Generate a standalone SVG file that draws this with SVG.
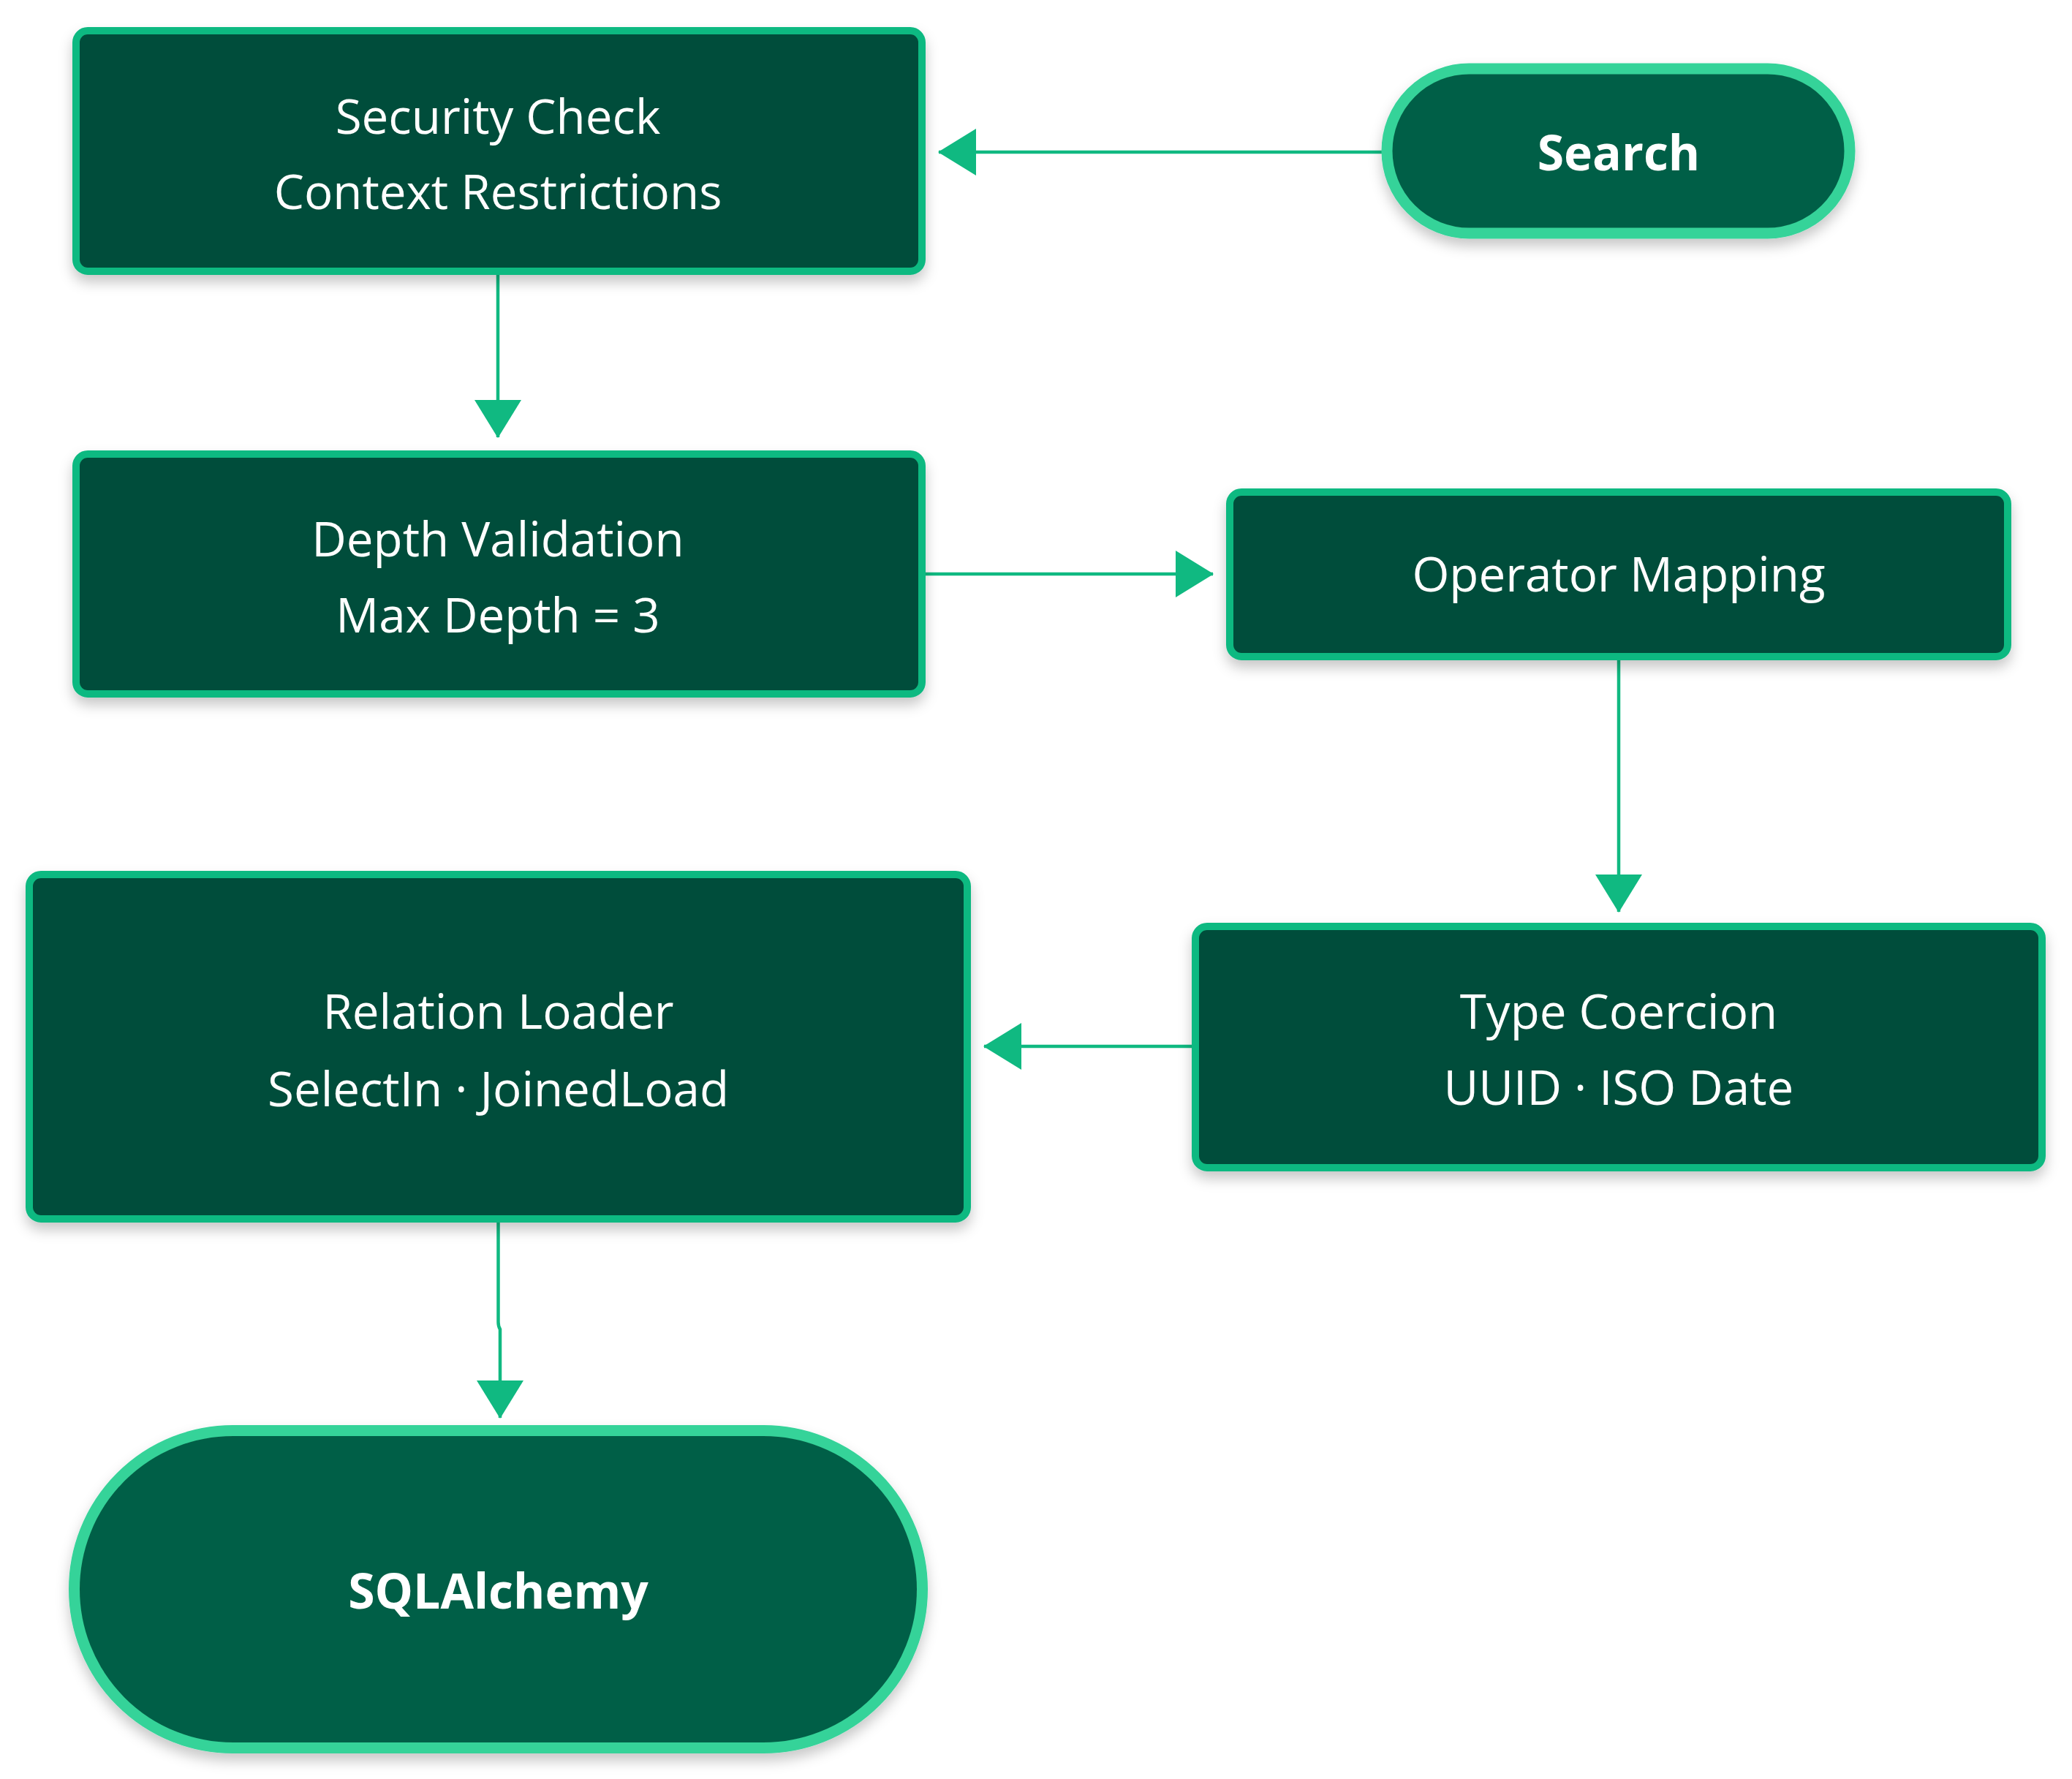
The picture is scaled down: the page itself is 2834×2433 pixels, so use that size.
<svg xmlns="http://www.w3.org/2000/svg" width="2834" height="2433" viewBox="0 0 2834 2433">
<defs>
<filter id="sh" x="-10%" y="-10%" width="120%" height="130%">
<feDropShadow dx="0" dy="10" stdDeviation="9" flood-color="#000" flood-opacity="0.22"/>
</filter>
<marker id="ah" markerUnits="userSpaceOnUse" viewBox="0 0 52 64" refX="51" refY="32" markerWidth="52" markerHeight="64" orient="auto">
<path d="M0,0 L52,32 L0,64 Z" fill="#10b981"/>
</marker>
<style>
.box{fill:#064e3b;stroke:#10b981;stroke-width:10}
.term{fill:#065f46;stroke:#34d399;stroke-width:15}
.t{font-family:"Segoe UI","Open Sans","Noto Sans",sans-serif;font-size:65.5px;fill:#fff;text-anchor:middle}
.b{font-weight:bold;font-size:66px}
.e{fill:none;stroke:#10b981;stroke-width:4.5;marker-end:url(#ah)}
</style>
</defs>
<rect width="2834" height="2433" fill="#fff"/>
<g id="connectors">
<path class="e" d="M1890,208 L1284,208"/>
<path class="e" d="M681,376 L681,598"/>
<path class="e" d="M1266,785 L1659,785"/>
<path class="e" d="M2214,903 L2214,1247"/>
<path class="e" d="M1630,1431 L1346,1431"/>
<path class="e" d="M681.5,1672 L681.5,1808 Q681.5,1814 684,1818 L684,1939"/>
</g>
<g id="search" filter="url(#sh)">
<rect class="term" x="1897" y="94" width="633" height="225" rx="112.5"/>
<text class="t b" x="2214" y="233">Search</text>
</g>
<g id="security-check" filter="url(#sh)">
<rect class="box" x="104" y="42" width="1157" height="329" rx="16"/>
<text class="t" x="681" y="183">Security Check</text>
<text class="t" x="681" y="286">Context Restrictions</text>
</g>
<g id="depth-validation" filter="url(#sh)">
<rect class="box" x="104" y="621" width="1157" height="328" rx="16"/>
<text class="t" x="681" y="761">Depth Validation</text>
<text class="t" x="681" y="865">Max Depth = 3</text>
</g>
<g id="operator-mapping" filter="url(#sh)">
<rect class="box" x="1682" y="673" width="1064" height="225" rx="16"/>
<text class="t" x="2214" y="809">Operator Mapping</text>
</g>
<g id="type-coercion" filter="url(#sh)">
<rect class="box" x="1635" y="1267" width="1158" height="330" rx="16"/>
<text class="t" x="2214" y="1407">Type Coercion</text>
<text class="t" x="2214" y="1511">UUID · ISO Date</text>
</g>
<g id="relation-loader" filter="url(#sh)">
<rect class="box" x="40" y="1196" width="1283" height="471" rx="16"/>
<text class="t" x="681.5" y="1407">Relation Loader</text>
<text class="t" x="681.5" y="1513">SelectIn · JoinedLoad</text>
</g>
<g id="sqlalchemy" filter="url(#sh)">
<rect class="term" x="101.5" y="1956.5" width="1160" height="434" rx="217"/>
<text class="t b" x="681.5" y="2200">SQLAlchemy</text>
</g>
</svg>
